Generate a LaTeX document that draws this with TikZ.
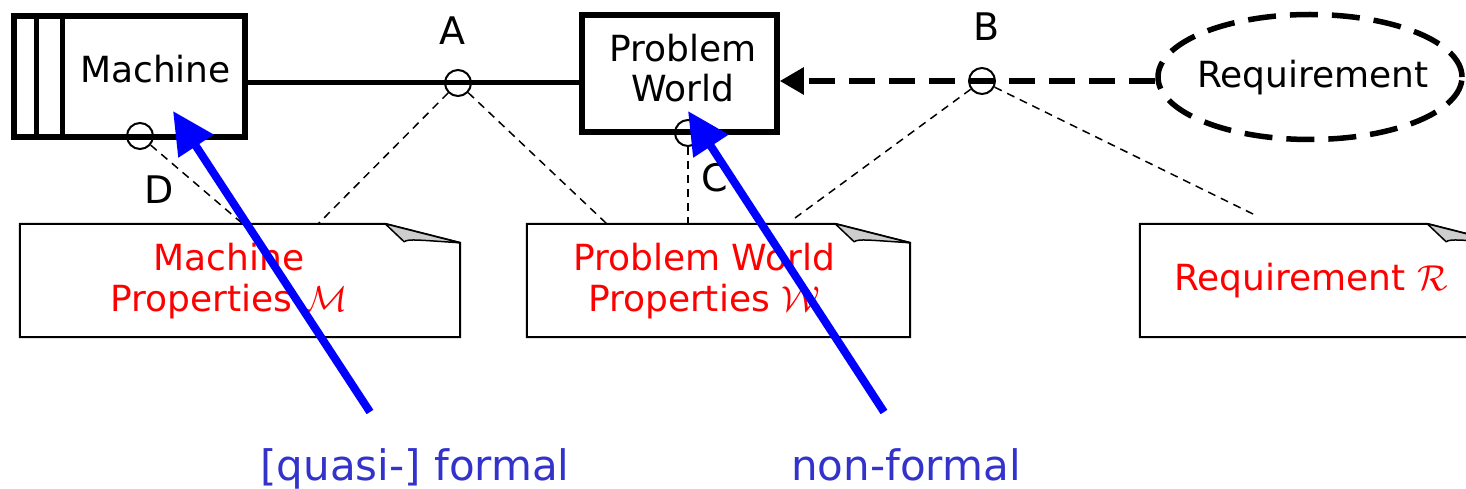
\RequirePackage{fix-cm}
\documentclass[tikz,border=0pt]{standalone}
\usepackage{fontspec}
\setmainfont{DejaVu Sans}
\usetikzlibrary{arrows.meta,shapes.geometric,calc}
\definecolor{labelblue}{RGB}{51,51,204}
\definecolor{flapgrey}{RGB}{205,205,205}

% note sheet with a folded top-right corner, drawn round a named node
\newcommand\foldednote[1]{%
  \draw[line width=2pt,fill=white]
    (#1.south west) -- (#1.north west) -- ($(#1.north east)+(-75,0)$)
    -- ($(#1.north east)+(0,19)$) -- (#1.south east) -- cycle;
  \draw[line width=1.5pt,fill=flapgrey,line join=round]
    ($(#1.north east)+(-75,0)$) -- ($(#1.north east)+(-56,18)$)
    .. controls ($(#1.north east)+(-52,15)$) and ($(#1.north east)+(-45,16)$)
    .. ($(#1.north east)+(0,19)$) -- cycle;}

\begin{document}
\begin{tikzpicture}[x=1pt,y=-1pt,
  thickbox/.style={draw,line width=5.5pt,inner sep=0pt},
  port/.style={circle,draw,line width=2pt,minimum size=26pt,inner sep=0pt},
  notearea/.style={inner sep=0pt},
  boxtext/.style={font=\fontsize{36}{40}\selectfont,inner sep=0pt,align=center},
  notetext/.style={font=\fontsize{36}{41}\selectfont,text=red,inner sep=0pt,align=center},
  portlabel/.style={font=\fontsize{38}{40}\selectfont,inner sep=0pt,anchor=base},
  callout/.style={font=\fontsize{42}{44}\selectfont,text=labelblue,inner sep=0pt,anchor=base},
  annot/.style={line width=1.5pt,dash pattern=on 8pt off 6pt},
  pointer/.style={draw=blue,line width=8pt,-{Triangle[length=42pt,width=40pt]}}]

\useasboundingbox (0,0) rectangle (1466,489);
\clip (0,0) rectangle (1466,489);

% ---- property notes ----
\node[notearea,minimum width=440pt,minimum height=113pt] (n1) at (240,280.5) {};
\node[notearea,minimum width=383pt,minimum height=113pt] (n2) at (718.5,280.5) {};
\node[notearea,minimum width=362pt,minimum height=113pt] (n3) at (1321,280.5) {};
\foldednote{n1}
\foldednote{n2}
\foldednote{n3}
\node[notetext] (n1t) at (229,281) {Machine\\Properties $\mathcal{M}$};
\node[notetext] (n2t) at (704,281) {Problem World\\Properties $\mathcal{W}$};
\node[notetext,anchor=base] (n3t) at (1311,290) {Requirement $\mathcal{R}$};

% ---- domains ----
\node[thickbox,minimum width=231pt,minimum height=121pt] (mach) at (129.5,76.5) {};
\draw[line width=5.5pt] ($(mach.north west)+(25,0)$) -- ($(mach.south west)+(25,0)$);
\draw[line width=5.5pt] ($(mach.north west)+(51,0)$) -- ($(mach.south west)+(51,0)$);
\node[boxtext,anchor=base] (macht) at (155.5,83) {Machine};

\node[thickbox,minimum width=195pt,minimum height=117pt] (pw) at (679.5,73.5) {};
\node[boxtext] (pwt) at (683,68.5) {Problem\\World};

\node[draw,ellipse,line width=5.5pt,dash pattern=on 28pt off 14pt,inner sep=0pt,
      minimum width=304pt,minimum height=125pt] (req) at (1310,77) {};
\node[boxtext,anchor=base] (reqt) at (1313,88) {Requirement};

% ---- interfaces ----
\node[port] (cA) at (458,83) {};
\node[port] (cB) at (982,81) {};
\node[port] (cC) at (688,133) {};
\node[port] (cD) at (140,136) {};

\draw[line width=5pt] (mach.east |- cA.center) -- (pw.west |- cA.center);
\draw[line width=5.5pt,dash pattern=on 26pt off 14pt,-{Triangle[length=24pt,width=26pt]}]
  (req.west |- cB.center) -- (pw.east |- cB.center);

\node[portlabel] (lA) at (452,45) {A};
\node[portlabel] (lB) at (987,41) {B};
\node[portlabel] (lC) at (715,192) {C};
\node[portlabel] (lD) at (159,204) {D};

% ---- links from interfaces to property notes ----
\coordinate (eD) at (243,224);
\coordinate (eAl) at (318,224);
\coordinate (eAr) at (607,224);
\coordinate (eC) at (688,224);
\coordinate (eBl) at (795,218);
\coordinate (eBr) at (1255,215);
\draw[annot] (cD) -- (eD);
\draw[annot] (cA) -- (eAl);
\draw[annot] (cA) -- (eAr);
\draw[annot] (cC) -- (eC);
\draw[annot] (cB) -- (eBl);
\draw[annot] (cB) -- (eBr);

% ---- formality call-outs ----
\coordinate (p1tail) at (370,412);
\coordinate (p1head) at (173,111);
\coordinate (p2tail) at (884,412);
\coordinate (p2head) at (688,111);
\draw[pointer] (p1tail) -- (p1head);
\draw[pointer] (p2tail) -- (p2head);

\node[callout] (q1) at (415,480) {[quasi-] formal};
\node[callout] (q2) at (906,480) {non-formal};
\end{tikzpicture}
\end{document}
